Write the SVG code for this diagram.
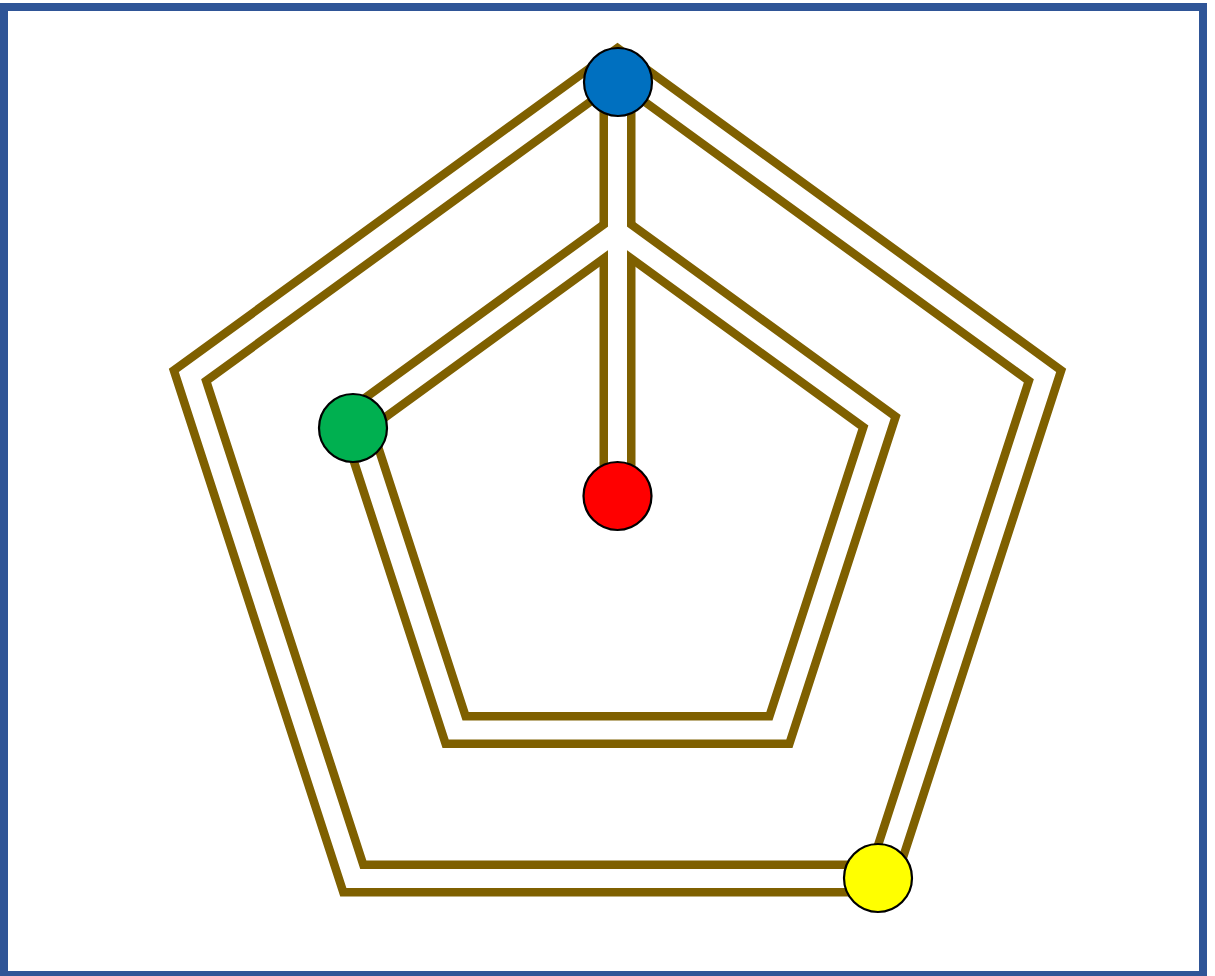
<svg xmlns="http://www.w3.org/2000/svg" xmlns:xlink="http://www.w3.org/1999/xlink" width="1215" height="976" viewBox="0 0 1215 976">
<style>
.bg{fill:#ffffff}
.frame{fill:none;stroke:#2F5597;stroke-width:8}
.outerline{fill:none;stroke:#7F6000;stroke-width:36;stroke-linejoin:miter;stroke-miterlimit:10}
.innerline{fill:none;stroke:#ffffff;stroke-width:19;stroke-linejoin:miter;stroke-miterlimit:10}
.node{stroke:#000000;stroke-width:2.2}
</style>
<defs>
<path id="p-outer" d="M617.5,65 L1045,375.6 L881.7,878.5 L353.3,878.5 L190,375.6 Z"/>
<path id="p-inner" d="M617.5,231.5 L879.5,421.9 L779.4,730 L455.6,730 L355.5,421.9 Z"/>
<path id="p-vert" d="M617.5,82 L617.5,496"/>
</defs>
<rect class="bg" x="0" y="0" width="1215" height="976"/>
<rect class="frame" x="4" y="7" width="1199" height="968"/>
<g id="connectors">
<g id="connector-brown">
<use xlink:href="#p-outer" class="outerline"/>
<use xlink:href="#p-inner" class="outerline"/>
<use xlink:href="#p-vert" class="outerline"/>
</g>
<g id="connector-white">
<use xlink:href="#p-outer" class="innerline"/>
<use xlink:href="#p-inner" class="innerline"/>
<use xlink:href="#p-vert" class="innerline"/>
</g>
</g>
<g id="node-blue"><circle class="node" cx="618" cy="82" r="34" fill="#0070C0"/></g>
<g id="node-green"><circle class="node" cx="353" cy="428" r="34" fill="#00B050"/></g>
<g id="node-red"><circle class="node" cx="617.5" cy="496" r="34" fill="#FF0000"/></g>
<g id="node-yellow"><circle class="node" cx="878" cy="878" r="34" fill="#FFFF00"/></g>
</svg>
